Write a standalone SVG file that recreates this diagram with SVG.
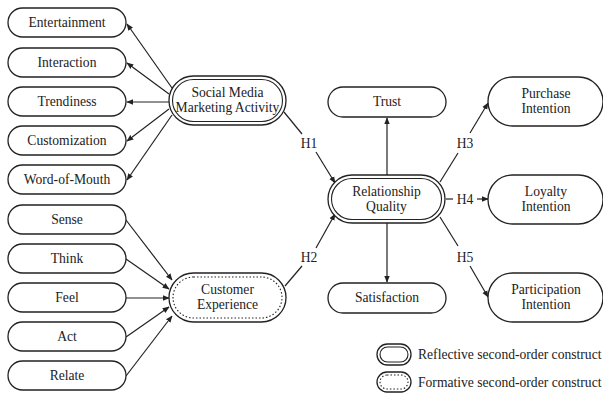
<svg xmlns="http://www.w3.org/2000/svg" width="603" height="394" viewBox="0 0 603 394">
<defs>
<style>
.box{fill:#fff;stroke:#222;stroke-width:1.3}
.in{fill:none;stroke:#222;stroke-width:1.1}
.dot{fill:none;stroke:#222;stroke-width:1.1;stroke-dasharray:1.5 2}
.t{font-family:"Liberation Serif",serif;font-size:13.6px;fill:#222;text-anchor:middle}
.lt{font-family:"Liberation Serif",serif;font-size:13.6px;fill:#222}
.c{stroke:#222;stroke-width:1.2;fill:none}
.ca{stroke:#222;stroke-width:1.2;fill:none;marker-end:url(#ah)}
</style>
<marker id="ah" viewBox="0 0 10 10" refX="9" refY="5" markerWidth="7" markerHeight="7" markerUnits="userSpaceOnUse" orient="auto"><path d="M0,1 L10,5 L0,9 Z" fill="#222"/></marker>
</defs>
<rect width="603" height="394" fill="#fff"/>
<g id="connectors">
<line class="ca" x1="172" y1="88" x2="127" y2="24"/>
<line class="ca" x1="169" y1="94" x2="127" y2="63"/>
<line class="ca" x1="169" y1="102" x2="127" y2="102"/>
<line class="ca" x1="169" y1="109" x2="127" y2="141"/>
<line class="ca" x1="172" y1="115" x2="127" y2="180"/>
<line class="ca" x1="126" y1="220" x2="172" y2="280"/>
<line class="ca" x1="126" y1="259" x2="169" y2="289"/>
<line class="ca" x1="126" y1="298" x2="169" y2="298"/>
<line class="ca" x1="126" y1="337" x2="169" y2="307"/>
<line class="ca" x1="126" y1="376" x2="172" y2="316"/>
<line class="c" x1="284" y1="112" x2="302" y2="134"/>
<line class="ca" x1="316" y1="152" x2="335" y2="183"/>
<line class="c" x1="285" y1="286" x2="302" y2="266"/>
<line class="ca" x1="316" y1="248" x2="335" y2="214"/>
<line class="c" x1="440" y1="182" x2="458" y2="153"/>
<line class="ca" x1="470" y1="133" x2="488" y2="103"/>
<line class="c" x1="446" y1="199" x2="453" y2="199"/>
<line class="ca" x1="477" y1="199" x2="488" y2="199"/>
<line class="c" x1="440" y1="217" x2="458" y2="246"/>
<line class="ca" x1="470" y1="266" x2="488" y2="297"/>
<line class="ca" x1="387" y1="175" x2="387" y2="118"/>
<line class="ca" x1="387" y1="223" x2="387" y2="282"/>
<text class="t" x="309" y="148">H1</text>
<text class="t" x="309" y="262">H2</text>
<text class="t" x="465" y="148">H3</text>
<text class="t" x="465" y="204">H4</text>
<text class="t" x="465" y="262">H5</text>
</g>
<g id="entertainment"><rect class="box" x="8" y="8" width="118" height="29" rx="14.5"/><text class="t" x="67" y="27">Entertainment</text></g>
<g id="interaction"><rect class="box" x="8" y="48" width="118" height="29" rx="14.5"/><text class="t" x="67" y="67">Interaction</text></g>
<g id="trendiness"><rect class="box" x="8" y="87" width="118" height="29" rx="14.5"/><text class="t" x="67" y="106">Trendiness</text></g>
<g id="customization"><rect class="box" x="8" y="126" width="118" height="29" rx="14.5"/><text class="t" x="67" y="145">Customization</text></g>
<g id="word-of-mouth"><rect class="box" x="8" y="165" width="118" height="29" rx="14.5"/><text class="t" x="67" y="184">Word-of-Mouth</text></g>
<g id="sense"><rect class="box" x="8" y="205" width="118" height="29" rx="14.5"/><text class="t" x="67" y="224">Sense</text></g>
<g id="think"><rect class="box" x="8" y="244" width="118" height="29" rx="14.5"/><text class="t" x="67" y="263">Think</text></g>
<g id="feel"><rect class="box" x="8" y="283" width="118" height="29" rx="14.5"/><text class="t" x="67" y="302">Feel</text></g>
<g id="act"><rect class="box" x="8" y="322" width="118" height="29" rx="14.5"/><text class="t" x="67" y="341">Act</text></g>
<g id="relate"><rect class="box" x="8" y="361" width="118" height="29" rx="14.5"/><text class="t" x="67" y="380">Relate</text></g>
<g id="smma"><rect class="box" x="169" y="76" width="117" height="49" rx="24.5"/><rect class="in" x="172.5" y="79.5" width="110" height="42" rx="21"/><text class="t" x="227.5" y="97">Social Media</text><text class="t" x="227.5" y="112">Marketing Activity</text></g>
<g id="customer-experience"><rect class="box" x="169" y="273" width="117" height="49" rx="24.5"/><rect class="dot" x="173" y="277" width="109" height="41" rx="20.5"/><text class="t" x="227.5" y="294">Customer</text><text class="t" x="227.5" y="309">Experience</text></g>
<g id="relationship-quality"><rect class="box" x="328" y="175" width="117" height="48" rx="24"/><rect class="in" x="331.5" y="178.5" width="110" height="41" rx="20.5"/><text class="t" x="386.5" y="196">Relationship</text><text class="t" x="386.5" y="211">Quality</text></g>
<g id="trust"><rect class="box" x="328" y="87" width="118" height="30" rx="15"/><text class="t" x="387" y="106">Trust</text></g>
<g id="satisfaction"><rect class="box" x="328" y="283" width="118" height="30" rx="15"/><text class="t" x="387" y="302">Satisfaction</text></g>
<g id="purchase-intention"><rect class="box" x="488" y="77" width="115" height="49" rx="24.5"/><text class="t" x="546" y="98">Purchase</text><text class="t" x="546" y="113">Intention</text></g>
<g id="loyalty-intention"><rect class="box" x="488" y="175" width="115" height="49" rx="24.5"/><text class="t" x="546" y="196">Loyalty</text><text class="t" x="546" y="211">Intention</text></g>
<g id="participation-intention"><rect class="box" x="488" y="273" width="115" height="49" rx="24.5"/><text class="t" x="546" y="294">Participation</text><text class="t" x="546" y="309">Intention</text></g>
<g id="legend">
<rect class="box" x="377" y="344" width="34" height="21" rx="10.5"/><rect class="in" x="380" y="347" width="28" height="15" rx="7.5"/>
<text class="lt" x="418" y="359">Reflective second-order construct</text>
<rect class="box" x="377" y="372" width="34" height="20" rx="10"/><rect class="dot" x="380" y="375" width="28" height="14" rx="7"/>
<text class="lt" x="418" y="387">Formative second-order construct</text>
</g>
</svg>
